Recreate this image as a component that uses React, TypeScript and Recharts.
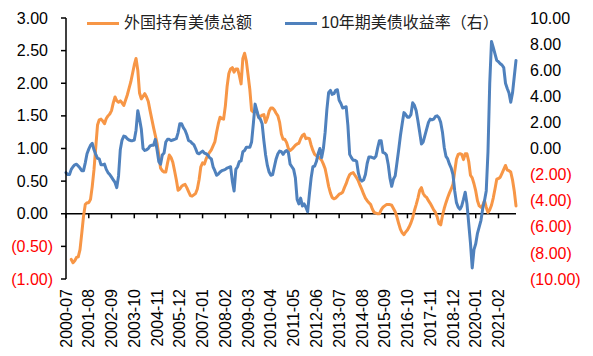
import { LineChart, Line, XAxis, YAxis, ReferenceLine } from "recharts"

// months 2000-07 .. 2021-12
const months: string[] = []
for (let i = 0; i < 258; i++) {
  const m = 6 + i
  const y = 2000 + Math.floor(m / 12)
  const mm = (m % 12) + 1
  months.push(`${y}-${mm < 10 ? "0" + mm : mm}`)
}

// 外国持有美债总额 (left axis)
const holdings: (number | null)[] = [
  null, null, null, -0.7, -0.75, -0.72, -0.67, -0.66, -0.55, -0.3, -0.04, 0.14,
  0.17, 0.17, 0.22, 0.42, 0.68, 1.02, 1.36, 1.44, 1.45, 1.42, 1.38, 1.46,
  1.5, 1.53, 1.58, 1.7, 1.79, 1.73, 1.71, 1.73, 1.7, 1.66, 1.74, 1.82,
  1.92, 2.02, 2.15, 2.28, 2.38, 2.2, 1.85, 1.76, 1.8, 1.84, 1.79, 1.72,
  1.58, 1.45, 1.32, 1.2, 1.08, 0.9, 0.7, 0.66, 0.64, 0.64, 0.78, 0.9,
  0.86, 0.79, 0.66, 0.52, 0.36, 0.38, 0.42, 0.44, 0.45, 0.4, 0.34, 0.28,
  0.27, 0.29, 0.31, 0.38, 0.52, 0.72, 0.78, 0.76, 0.84, 0.9, 0.94, 0.98,
  1.04, 1.1, 1.25, 1.38, 1.48, 1.46, 1.45, 1.65, 1.95, 2.15, 2.22, 2.24,
  2.17, 2.22, 2.22, 2.12, 1.99, 2.38, 2.46, 2.34, 2.12, 1.9, 1.58, 1.56,
  1.57, 1.56, 1.48, 1.49, 1.51, 1.52, 1.4, 1.47, 1.57, 1.62, 1.62, 1.59,
  1.54, 1.5, 1.4, 1.22, 1.14, 1.14, 1.09, 1.0, 0.97, 0.99, 1.02, 1.05,
  1.07, 1.08, 1.15, 1.2, 1.22, 1.15, 1.16, 1.15, 1.05, 0.97, 0.91, 0.89,
  0.87, 0.85, 0.82, 0.76, 0.69, 0.56, 0.42, 0.32, 0.25, 0.23, 0.24, 0.27,
  0.3, 0.31, 0.33, 0.4, 0.46, 0.54, 0.6, 0.62, 0.63, 0.59, 0.55, 0.5,
  0.43, 0.37, 0.3, 0.24, 0.2, 0.17, 0.14, 0.07, 0.02, 0.01, 0.0, 0.0,
  0.06, 0.1, 0.12, 0.14, 0.14, 0.14, 0.13, 0.08, 0.03, -0.05, -0.15, -0.24,
  -0.29, -0.32, -0.28, -0.25, -0.2, -0.14, -0.06, 0.05, 0.14, 0.24, 0.36, 0.4,
  0.31, 0.27, 0.25, 0.2, 0.16, 0.11, 0.06, 0.02, -0.05, -0.15, -0.17, -0.03,
  0.08, 0.17, 0.25, 0.32, 0.38, 0.45, 0.65, 0.84, 0.91, 0.92, 0.91, 0.83,
  0.92, 0.92, 0.8, 0.59, 0.55, 0.46, 0.35, 0.2, 0.12, 0.1, 0.13, 0.2,
  0.1, 0.02, 0.06, 0.13, 0.24, 0.38, 0.53, 0.54, 0.56, 0.62, 0.68, 0.74,
  0.67, 0.66, 0.64, 0.52, 0.35, 0.12,
]

// 10年期美债收益率 (right axis)
const yields: number[] = [
  -1.85, -2.0, -2.0, -1.6, -1.4, -1.25, -1.2, -1.35, -1.5, -1.7, -1.7, -1.1,
  -0.4, -0.05, 0.25, 0.4, -0.1, -0.45, -0.75, -0.8, -1.25, -1.25, -1.2, -1.6,
  -1.85, -2.0, -2.2, -2.4, -2.6, -3.0, -2.1, -0.1, 0.65, 0.95, 0.9, 0.75,
  0.65, 0.6, 0.6, 0.65, 1.4, 2.9, 2.25, 1.5, 0, -0.15, -0.1, 0,
  0.2, 0.25, 0.25, 0.7, -0.1, -1.0, -1.2, -0.5, -0.35, 0.5, 0.7, 0.7,
  0.6, 0.65, 0.7, 0.75, 1.2, 1.9, 1.9, 1.6, 1.4, 1.05, 0.6, 0.55,
  0.4, 0.3, 0, -0.35, -0.4, -0.3, -0.2, -0.35, -0.4, -0.5, -0.7, -0.8,
  -1.4, -1.7, -2.05, -1.95, -1.8, -1.7, -1.65, -1.6, -1.5, -1.45, -1.4, -2.5,
  -3.25, -1.6, -1.4, -1.0, -0.95, -0.25, -0.15, 0.1, 0.1, 0.1, 0.5, 1.9,
  3.4, 2.9, 2.4, 2.25, 1.9, 0.6, -0.5, -1.3, -1.8, -2.05, -2.0, -1.4,
  -0.8, -0.4, -0.2, -0.25, -0.45, -0.25, -0.15, -0.3, -1.2, -1.4, -1.6, -2.25,
  -3.9, -4.25, -3.8, -4.4, -4.25, -4.5, -4.85, -3.5, -2.25, -1.4, -1.35, -1.0,
  -0.4, 0, -0.7, 0, 1.25, 3.0, 4.3, 4.45, 4.15, 4.2, 4.45, 4.5,
  3.7, 3.45, 3.1, 3.15, 3.2, 1.75, -0.45, -0.7, -0.9, -0.9, -1.0, -1.9,
  -2.35, -2.5, -2.4, -2.0, -1.15, -0.65, -0.65, -0.7, -0.75, -0.6, 0.05, 0.6,
  0.6, -0.3, -0.35, -0.5, -1.2, -2.25, -2.9, -2.35, -2.1, -1.1, -0.1, 1.0,
  1.9, 2.75, 2.6, 2.4, 2.4, 2.6, 3.5, 3.3, 2.9, 2.1, 1.25, 0.35,
  0.5, 1.0, 1.5, 2.0, 2.25, 2.2, 2.25, 2.45, 2.5, 2.35, 2.0, 1.25,
  0.1, -0.6, -0.8, -1.2, -1.5, -2.0, -3.25, -4.15, -4.5, -4.65, -4.4, -3.9,
  -3.35, -4.25, -5.75, -7.25, -9.15, -7.75, -7.3, -6.5, -6.0, -5.5, -4.6, -4.0,
  -3.25, -0.25, 5.0, 8.2, 7.75, 7.25, 6.75, 6.65, 6.5, 6.4, 6.2, 5.0,
  4.6, 4.25, 3.55, 4.25, 5.5, 6.75,
]

const leftTicks = [-1, -0.5, 0, 0.5, 1, 1.5, 2, 2.5, 3]
const rightTicks = [-10, -8, -6, -4, -2, 0, 2, 4, 6, 8, 10]

const data = months.map((m, i) => ({
  month: m,
  holdings: holdings[i],
  yields: yields[i],
}))

const tickMonths = months.filter((_, i) => i % 13 === 0)

const FONT = "'Liberation Sans', Arial, sans-serif"
const ORANGE = "#F79646"
const BLUE = "#4F81BD"

const fmt = (v: number) =>
  v < 0 ? `(${Math.abs(v).toFixed(2)})` : v.toFixed(2)

const LeftTick = ({ x, y, payload }: any) => {
  const v = payload.value as number
  return (
    <text
      x={v < 0 ? x : x - 5}
      y={y}
      dy="0.35em"
      textAnchor="end"
      fontSize={16}
      fontFamily={FONT}
      fill={v < 0 ? "#FF0000" : "#000"}
    >
      {fmt(v)}
    </text>
  )
}

const RightTick = ({ x, y, payload }: any) => {
  const v = payload.value as number
  return (
    <text
      x={x}
      y={y}
      dy="0.35em"
      textAnchor="start"
      fontSize={16}
      fontFamily={FONT}
      fill={v < 0 ? "#FF0000" : "#000"}
    >
      {fmt(v)}
    </text>
  )
}

const XTick = ({ x, y, payload }: any) => (
  <text
    x={x}
    y={y}
    transform={`rotate(-90, ${x}, ${y})`}
    dy="0.35em"
    textAnchor="end"
    fontSize={16}
    fontFamily={FONT}
    fill="#000"
  >
    {payload.value}
  </text>
)

function LegendItem({ color, label, left, lineLeft }: any) {
  return (
    <>
      <div
        style={{
          position: "absolute",
          left: lineLeft,
          top: 22,
          width: 32,
          height: 3,
          background: color,
        }}
      />
      <div
        style={{
          position: "absolute",
          left,
          top: 13,
          fontSize: 16,
          lineHeight: "20px",
          whiteSpace: "nowrap",
          color: "#222",
          fontFamily: "'Liberation Sans', 'Noto Sans CJK SC', sans-serif",
        }}
      >
        {label}
      </div>
    </>
  )
}

export default function App() {
  return (
    <div
      style={{
        position: "absolute",
        left: 0,
        top: 0,
        width: 593,
        height: 356,
        background: "#fff",
      }}
    >
      <LineChart
        width={593}
        height={356}
        data={data}
        margin={{ top: 18, right: 0, bottom: 0, left: 0 }}
      >
        <XAxis
          dataKey="month"
          interval={12}
          height={77}
          axisLine={false}
          tickLine={false}
          tickSize={0}
          tickMargin={10}
          tick={<XTick />}
        />
        <YAxis
          yAxisId="left"
          domain={[-1, 3]}
          ticks={leftTicks}
          width={66}
          axisLine={{ stroke: "#000", strokeWidth: 1.5 }}
          tickLine={{ stroke: "#000", strokeWidth: 1.5 }}
          tickSize={5}
          tickMargin={8}
          tick={<LeftTick />}
        />
        <YAxis
          yAxisId="right"
          orientation="right"
          domain={[-10, 10]}
          ticks={rightTicks}
          width={77}
          axisLine={false}
          tickLine={false}
          tickSize={0}
          tickMargin={14}
          tick={<RightTick />}
        />
        <ReferenceLine yAxisId="left" y={0} stroke="#000" strokeWidth={1.5} />
        {tickMonths.map((m) => (
          <ReferenceLine
            key={m}
            yAxisId="left"
            segment={[
              { x: m, y: 0 },
              { x: m, y: -0.07 },
            ]}
            stroke="#000"
            strokeWidth={1.5}
          />
        ))}
        <Line
          yAxisId="left"
          type="linear"
          dataKey="holdings"
          stroke={ORANGE}
          strokeWidth={3}
          strokeLinejoin="round"
          strokeLinecap="round"
          dot={false}
          isAnimationActive={false}
        />
        <Line
          yAxisId="right"
          type="linear"
          dataKey="yields"
          stroke={BLUE}
          strokeWidth={3}
          strokeLinejoin="round"
          strokeLinecap="round"
          dot={false}
          isAnimationActive={false}
        />
      </LineChart>
      <LegendItem color={ORANGE} label="外国持有美债总额" left={124} lineLeft={87} />
      <LegendItem
        color={BLUE}
        label="10年期美债收益率（右）"
        left={321}
        lineLeft={285}
      />
    </div>
  )
}
